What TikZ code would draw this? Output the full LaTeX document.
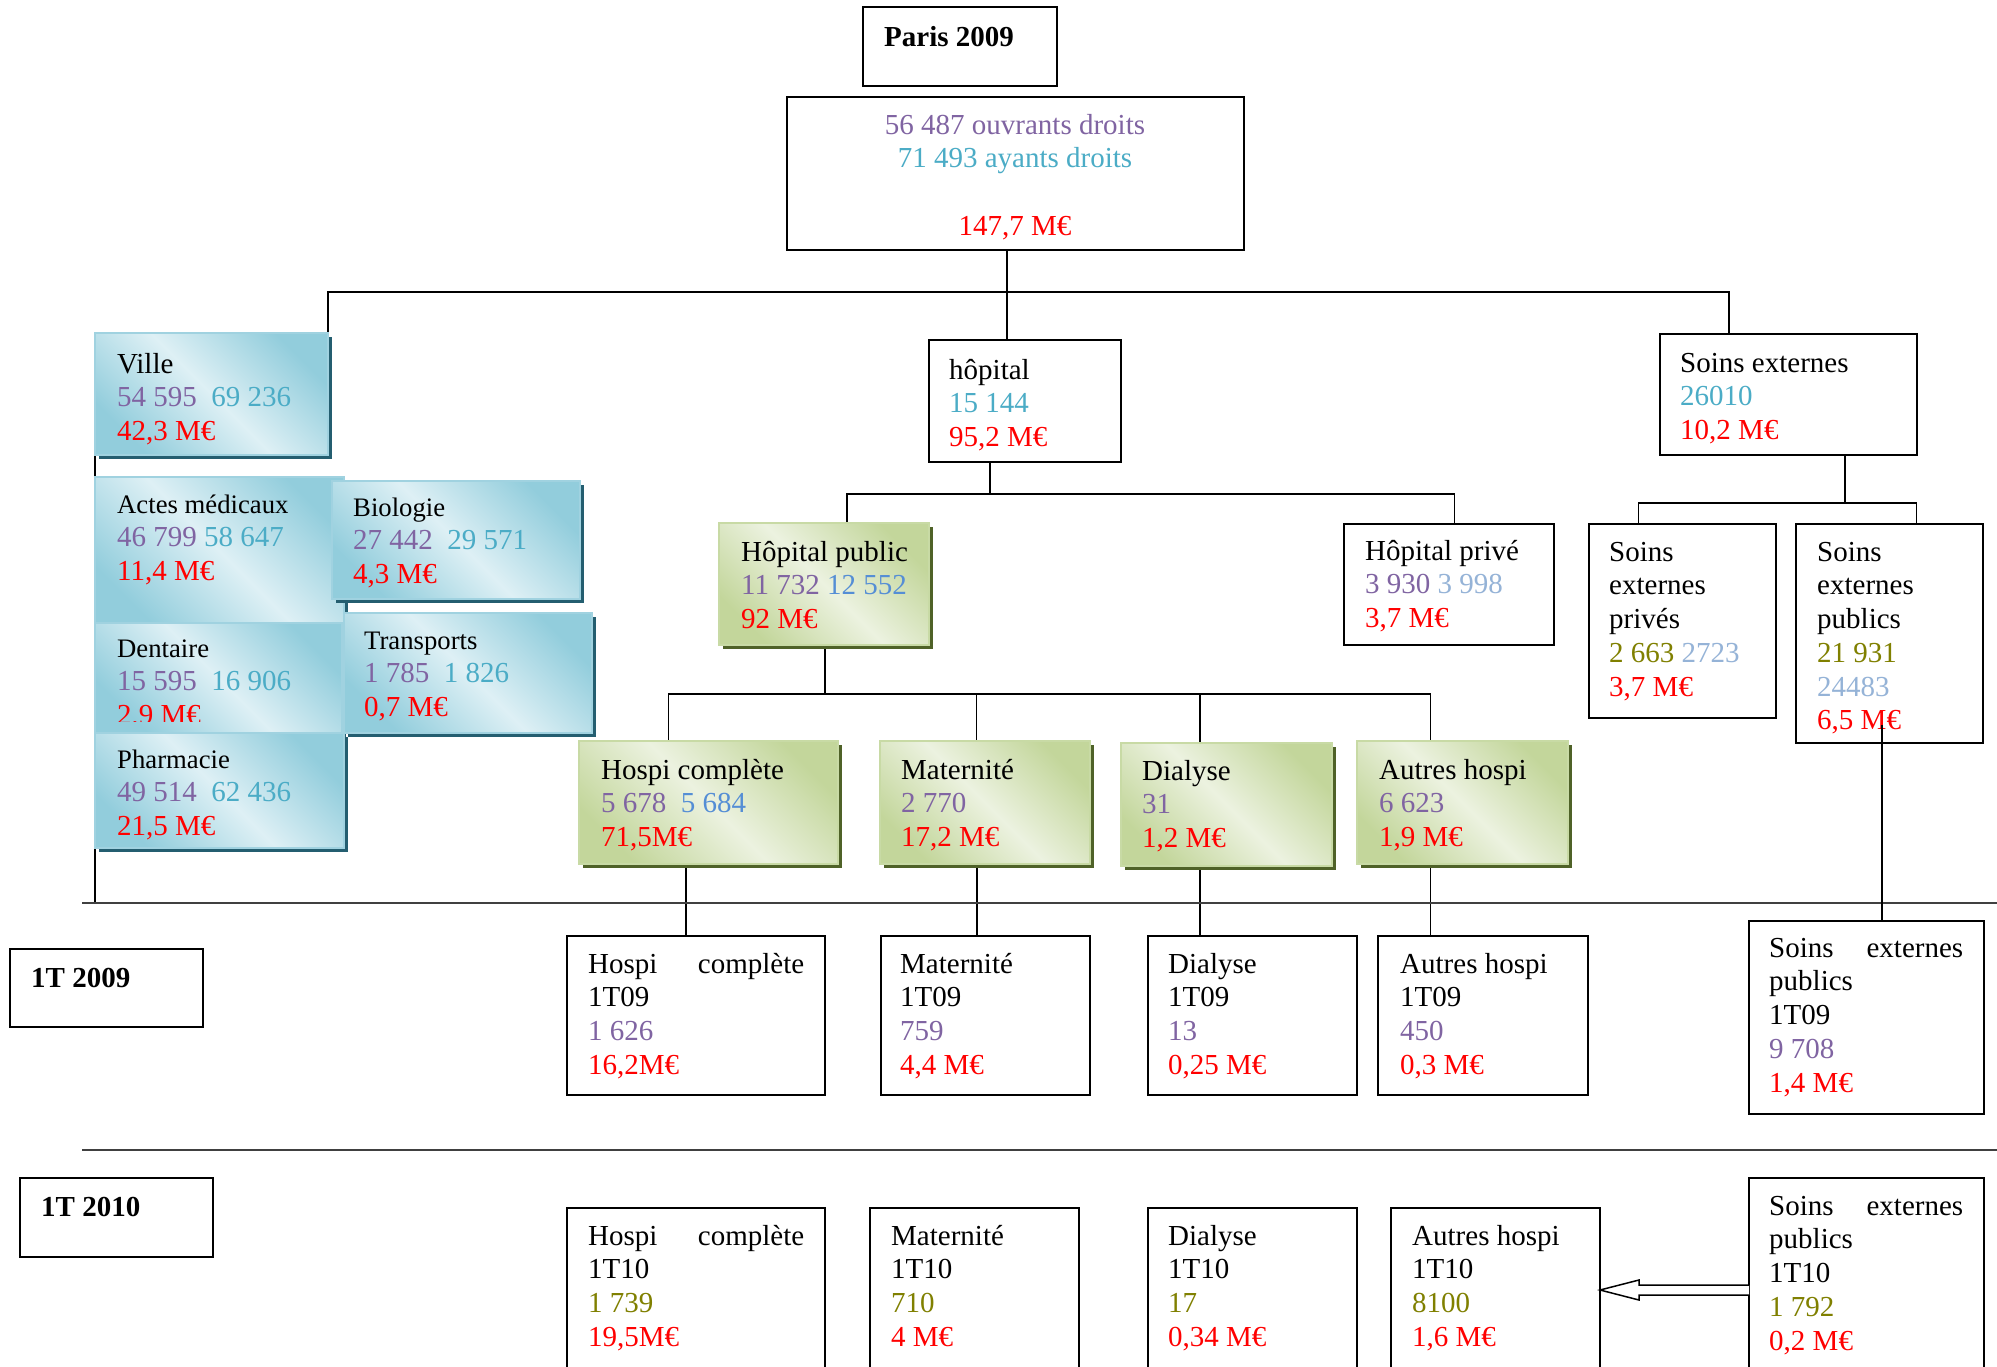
\documentclass[tikz,border=0pt]{standalone}
\usepackage{fontspec}
\setmainfont{Liberation Serif}
\usetikzlibrary{shadows,calc,backgrounds}
\definecolor{cpurple}{RGB}{128,100,162}
\definecolor{cteal}{RGB}{75,172,198}
\definecolor{cblue}{RGB}{85,142,213}
\definecolor{clblue}{RGB}{149,179,215}
\definecolor{colive}{RGB}{128,128,0}
\definecolor{cred}{RGB}{255,0,0}
\definecolor{bdark}{RGB}{146,205,220}
\definecolor{blight}{RGB}{222,240,245}
\definecolor{bborder}{RGB}{160,210,224}
\definecolor{bshadow}{RGB}{36,94,112}
\definecolor{gdark}{RGB}{195,214,155}
\definecolor{glight}{RGB}{236,242,224}
\definecolor{gborder}{RGB}{200,218,165}
\definecolor{gshadow}{RGB}{79,98,40}
\newcommand\fsz{\fontsize{29}{33.7}\selectfont}
\newcommand\smt[1]{{\fontsize{26.7}{33.7}\selectfont #1}}
\newcommand\cPu[1]{\textcolor{cpurple}{#1}}
\newcommand\cTe[1]{\textcolor{cteal}{#1}}
\newcommand\cBl[1]{\textcolor{cblue}{#1}}
\newcommand\cLb[1]{\textcolor{clblue}{#1}}
\newcommand\cOl[1]{\textcolor{colive}{#1}}
\newcommand\cRe[1]{\textcolor{cred}{#1}}
\newcommand\mkbox[6]{\node[#2, minimum width={(#5-#3)*1pt}, minimum height={(#6-#4)*1pt}] (#1) at ({(#3+#5)/2},{(#4+#6)/2}) {};}
\newcommand\mktxt[4]{\node[txt] (#1) at (#2,#3) {\rule{0pt}{27pt}#4};}
\begin{document}
\begin{tikzpicture}[x=1pt,y=-1pt,
  conn/.style={draw=black, line width=1.3pt},
  sepline/.style={draw=black!75, line width=1.8pt},
  plain/.style={draw=black, line width=1.6pt, fill=white, inner sep=0pt, outer sep=0pt},
  bluebox/.style={draw=bborder, line width=2pt, inner sep=0pt, outer sep=0pt,
     general shadow={fill=bshadow, shadow xshift=4pt, shadow yshift=-4pt},
     top color=bdark, bottom color=bdark, middle color=blight, shading angle=-45},
  greenbox/.style={draw=gborder, line width=2pt, inner sep=0pt, outer sep=0pt,
     general shadow={fill=gshadow, shadow xshift=4pt, shadow yshift=-4pt},
     top color=gdark, bottom color=gdark, middle color=glight, shading angle=-45},
  txt/.style={anchor=north west, inner sep=0pt, align=left, yshift=27pt, font=\fsz}]
\useasboundingbox (0,0) rectangle (1997,1367);

% ---- top
\mkbox{paris}{plain}{863}{7}{1057}{86}
\mktxt{parisT}{884}{46}{\bfseries Paris 2009}
\mkbox{top}{plain}{787}{97}{1244}{250}
\node[txt, anchor=north, align=center] (topT) at (1015,134) {\rule{0pt}{27pt}\cPu{56 487 ouvrants droits}\\\cTe{71 493 ayants droits}\\[33.7pt]\cRe{147,7 M€}};

% ---- ville (blue)
\mkbox{ville}{bluebox}{95}{333}{328}{455}
\mktxt{villeT}{117}{373}{Ville\\\cPu{54 595}\ \ \cTe{69 236}\\\cRe{42,3 M€}}
\mkbox{actes}{bluebox}{95}{477}{344}{625}
\mktxt{actesT}{117}{513}{\smt{Actes médicaux}\\\cPu{46 799} \cTe{58 647}\\\cRe{11,4 M€}}
\mkbox{bio}{bluebox}{332}{481}{580}{599}
\mktxt{bioT}{353}{516}{\smt{Biologie}\\\cPu{27 442}\ \ \cTe{29 571}\\\cRe{4,3 M€}}
\mkbox{dent}{bluebox}{95}{623}{342}{733}
\begin{scope}
\clip (90,600) rectangle (345,721);
\mktxt{dentT}{117}{657}{\smt{Dentaire}\\\cPu{15 595}\ \ \cTe{16 906}\\\cRe{2,9 M€}}
\end{scope}
\mkbox{trans}{bluebox}{344}{613}{592}{733}
\mktxt{transT}{364}{649}{\smt{Transports}\\\cPu{1 785}\ \ \cTe{1 826}\\\cRe{0,7 M€}}
\mkbox{pharm}{bluebox}{95}{733}{344}{848}
\mktxt{pharmT}{117}{768}{\smt{Pharmacie}\\\cPu{49 514}\ \ \cTe{62 436}\\\cRe{21,5 M€}}

% ---- hopital / soins externes
\mkbox{hop}{plain}{929}{340}{1121}{462}
\mktxt{hopT}{949}{379}{hôpital\\\cTe{15 144}\\\cRe{95,2 M€}}
\mkbox{se}{plain}{1660}{334}{1917}{455}
\mktxt{seT}{1680}{372}{Soins externes\\\cTe{26010}\\\cRe{10,2 M€}}
\mkbox{hpub}{greenbox}{719}{523}{929}{645}
\mktxt{hpubT}{741}{561}{Hôpital public\\\cPu{11 732} \cBl{12 552}\\\cRe{92 M€}}
\mkbox{hpriv}{plain}{1344}{524}{1554}{645}
\mktxt{hprivT}{1365}{560}{Hôpital privé\\\cPu{3 930} \cLb{3 998}\\\cRe{3,7 M€}}
\mkbox{sepriv}{plain}{1589}{524}{1776}{718}
\mktxt{seprivT}{1609}{561}{Soins\\externes\\privés\\\cOl{2 663} \cLb{2723}\\\cRe{3,7 M€}}
\mkbox{sepub}{plain}{1796}{524}{1983}{743}
\mktxt{sepubT}{1817}{561}{Soins\\externes\\publics\\\cOl{21 931}\\\cLb{24483}\\\cRe{6,5 M€}}

% ---- green row
\mkbox{hc}{greenbox}{579}{741}{838}{864}
\mktxt{hcT}{601}{779}{Hospi complète\\\cPu{5 678}\ \ \cBl{5 684}\\\cRe{71,5M€}}
\mkbox{mat}{greenbox}{880}{741}{1090}{864}
\mktxt{matT}{901}{779}{Maternité\\\cPu{2 770}\\\cRe{17,2 M€}}
\mkbox{dia}{greenbox}{1121}{743}{1332}{866}
\mktxt{diaT}{1142}{780}{Dialyse\\\cPu{31}\\\cRe{1,2 M€}}
\mkbox{aut}{greenbox}{1357}{741}{1568}{864}
\mktxt{autT}{1379}{779}{Autres hospi\\\cPu{6 623}\\\cRe{1,9 M€}}

% ---- 1T 2009
\mkbox{t09}{plain}{10}{949}{203}{1027}
\mktxt{t09T}{31}{987}{\bfseries 1T 2009}
\mkbox{hc09}{plain}{567}{936}{825}{1095}
\mktxt{hc09T}{588}{973}{\hbox to 216pt{Hospi\hfil complète}\\1T09\\\cPu{1 626}\\\cRe{16,2M€}}
\mkbox{mat09}{plain}{881}{936}{1090}{1095}
\mktxt{mat09T}{900}{973}{Maternité\\1T09\\\cPu{759}\\\cRe{4,4 M€}}
\mkbox{dia09}{plain}{1148}{936}{1357}{1095}
\mktxt{dia09T}{1168}{973}{Dialyse\\1T09\\\cPu{13}\\\cRe{0,25 M€}}
\mkbox{aut09}{plain}{1378}{936}{1588}{1095}
\mktxt{aut09T}{1400}{973}{Autres hospi\\1T09\\\cPu{450}\\\cRe{0,3 M€}}
\mkbox{sep09}{plain}{1749}{921}{1984}{1114}
\mktxt{sep09T}{1769}{957}{\hbox to 194pt{Soins\hfil externes}\\publics\\1T09\\\cPu{9 708}\\\cRe{1,4 M€}}

% ---- 1T 2010
\mkbox{t10}{plain}{20}{1178}{213}{1257}
\mktxt{t10T}{41}{1216}{\bfseries 1T 2010}
\mkbox{hc10}{plain}{567}{1208}{825}{1420}
\mktxt{hc10T}{588}{1245}{\hbox to 216pt{Hospi\hfil complète}\\1T10\\\cOl{1 739}\\\cRe{19,5M€}}
\mkbox{mat10}{plain}{870}{1208}{1079}{1420}
\mktxt{mat10T}{891}{1245}{Maternité\\1T10\\\cOl{710}\\\cRe{4 M€}}
\mkbox{dia10}{plain}{1148}{1208}{1357}{1420}
\mktxt{dia10T}{1168}{1245}{Dialyse\\1T10\\\cOl{17}\\\cRe{0,34 M€}}
\mkbox{aut10}{plain}{1391}{1208}{1600}{1420}
\mktxt{aut10T}{1412}{1245}{Autres hospi\\1T10\\\cOl{8100}\\\cRe{1,6 M€}}
\mkbox{sep10}{plain}{1749}{1178}{1984}{1420}
\mktxt{sep10T}{1769}{1215}{\hbox to 194pt{Soins\hfil externes}\\publics\\1T10\\\cOl{1 792}\\\cRe{0,2 M€}}

% ---- connectors (behind boxes)
\begin{scope}[on background layer]
\coordinate (bus1) at (1007,292);
\coordinate (seIn) at ([xshift=69pt]se.north west);
\draw[conn] (top.south -| bus1) -- (bus1);
\draw[conn] (ville.north east) |- (bus1) -| (seIn);
\draw[conn] (bus1) -- (hop.north -| bus1);
\coordinate (bus2) at (990,494);
\coordinate (hpubIn) at ([xshift=128pt]hpub.north west);
\coordinate (hprivIn) at ([xshift=110.5pt]hpriv.north west);
\draw[conn] (hop.south -| bus2) -- (bus2);
\draw[conn] (hpubIn) |- (bus2) -| (hprivIn);
\coordinate (bus3) at (1845,503);
\coordinate (seprivIn) at ([xshift=49.5pt]sepriv.north west);
\coordinate (sepubIn) at ([xshift=120.7pt]sepub.north west);
\draw[conn] (se.south -| bus3) -- (bus3);
\draw[conn] (seprivIn) |- (bus3) -| (sepubIn);
\coordinate (bus4) at (825,694);
\coordinate (hcIn) at ([xshift=89.5pt]hc.north west);
\coordinate (matIn) at ([xshift=96.5pt]mat.north west);
\coordinate (diaIn) at ([xshift=79pt]dia.north west);
\coordinate (autIn) at ([xshift=73.5pt]aut.north west);
\draw[conn] (hpub.south -| bus4) -- (bus4);
\draw[conn] (hcIn) |- (bus4) -| (autIn);
\draw[conn] (matIn) -- (matIn |- bus4);
\draw[conn] (diaIn) -- (diaIn |- bus4);
\coordinate (hc09In) at ([xshift=119pt]hc09.north west);
\coordinate (mat09In) at ([xshift=96pt]mat09.north west);
\coordinate (dia09In) at ([xshift=52pt]dia09.north west);
\coordinate (aut09In) at ([xshift=52.5pt]aut09.north west);
\draw[conn] (hc.south -| hc09In) -- (hc09In);
\draw[conn] (mat.south -| mat09In) -- (mat09In);
\draw[conn] (dia.south -| dia09In) -- (dia09In);
\draw[conn] (aut.south -| aut09In) -- (aut09In);
\coordinate (sepL1) at (82,903);
\coordinate (sepL2) at (82,1150);
\draw[conn] (ville.south west) -- (ville.south west |- sepL1);
\draw[sepline] (sepL1) -- (1997,903);
\draw[sepline] (sepL2) -- (1997,1150);
\end{scope}

% line crossing soins externes publics
\coordinate (sep09In) at ([xshift=133pt]sep09.north west);
\coordinate (sepubOut) at ([yshift=18pt]sepub.south);
\draw[conn] (sepubOut -| sep09In) -- (sep09In);

% hollow block arrow
\coordinate (arrY) at (0,1290);
\coordinate (arrA) at (sep10.west |- arrY);
\coordinate (arrB) at (aut10.east |- arrY);
\draw[line width=1.5pt, fill=white, line join=miter]
  ($(arrA)+(0,-5)$) -- ($(arrB)+(39,-5)$) -- ($(arrB)+(39,-10)$) -- (arrB)
  -- ($(arrB)+(39,10)$) -- ($(arrB)+(39,5)$) -- ($(arrA)+(0,5)$);
\end{tikzpicture}
\end{document}
